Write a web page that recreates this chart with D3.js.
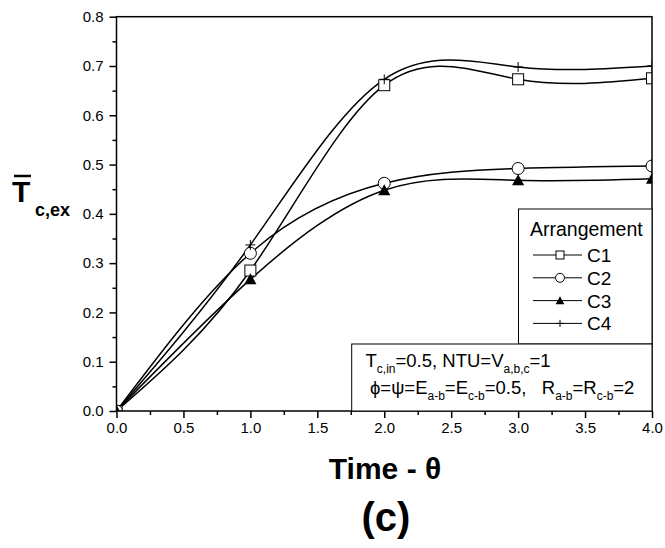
<!DOCTYPE html>
<html>
<head>
<meta charset="utf-8">
<script src="https://cdn.jsdelivr.net/npm/d3@7"></script>
<style>
  body { margin: 0; background: #fff; }
  svg { display: block; font-family: "Liberation Sans", Arial, sans-serif; }
</style>
</head>
<body>
<div id="container"></div>
<script>
let w = 665;
let h = 548;

// data
let times = [0, 1, 2, 3, 4];
let c1 = [0, 0.285, 0.661, 0.673, 0.675];
let c2 = [0, 0.320, 0.462, 0.492, 0.497];
let c3 = [0, 0.267, 0.448, 0.468, 0.471];
let c4 = [0, 0.337, 0.673, 0.698, 0.700];
let seriesNames = ['C1', 'C2', 'C3', 'C4'];
let seriesSymbols = ['square', 'circle', 'triangle', 'plus'];
let xTicks = [0, 0.5, 1, 1.5, 2, 2.5, 3, 3.5, 4];
let yTicks = [0, 0.1, 0.2, 0.3, 0.4, 0.5, 0.6, 0.7, 0.8];

let plot = { left: 116.5, right: 652, top: 16.7, bottom: 411 };

let svg = d3.select('#container')
  .append('svg')
    .attr('width', w)
    .attr('height', h);

let x = d3.scaleLinear().domain([0, 4]).range([plot.left, plot.right]);
let y = d3.scaleLinear().domain([0, 0.8]).range([plot.bottom, plot.top]);

// clip for curves + markers
svg.append('clipPath').attr('id', 'clip')
  .append('rect')
    .attr('x', plot.left).attr('y', plot.top)
    .attr('width', plot.right - plot.left)
    .attr('height', plot.bottom - plot.top);

let allSeries = [c1, c2, c3, c4].map(function(vals, i) {
  return {
    name: seriesNames[i],
    symbol: seriesSymbols[i],
    points: vals.map(function(v, j) { return { t: times[j], v: v }; })
  };
});

let line = d3.line()
  .x(function(d) { return x(d.t); })
  .y(function(d) { return y(d.v); })
  .curve(d3.curveNatural);

let g = svg.append('g').attr('clip-path', 'url(#clip)');

g.selectAll('.curve').data(allSeries)
  .enter()
  .append('path')
    .attr('class', 'curve')
    .attr('d', function(d) { return line(d.points); })
    .attr('fill', 'none')
    .attr('stroke', '#000')
    .attr('stroke-width', 1.5);

//draw one marker
function drawSymbol(sel, type, size) {
  if (type == 'square') {
    sel.append('rect')
      .attr('x', -size / 2).attr('y', -size / 2)
      .attr('width', size).attr('height', size)
      .attr('fill', '#fff').attr('stroke', '#000').attr('stroke-width', 1);
  } else if (type == 'circle') {
    sel.append('circle')
      .attr('r', size / 2 + 0.5)
      .attr('fill', '#fff').attr('stroke', '#000').attr('stroke-width', 1);
  } else if (type == 'triangle') {
    let s = size;
    sel.append('path')
      .attr('d', 'M0,' + (-s * 0.55) + 'L' + (s * 0.55) + ',' + (s * 0.45) + 'L' + (-s * 0.55) + ',' + (s * 0.45) + 'Z')
      .attr('fill', '#000');
  } else if (type == 'plus') {
    let s = size * 0.45;
    sel.append('path')
      .attr('d', 'M' + (-s) + ',0H' + s + 'M0,' + (-s) + 'V' + s)
      .attr('stroke', '#000').attr('stroke-width', 1);
  }
}

allSeries.forEach(function(s) {
  s.points.forEach(function(p) {
    let m = g.append('g').attr('transform', 'translate(' + x(p.t) + ',' + y(p.v) + ')');
    drawSymbol(m, s.symbol, 11);
  });
});

// axes
let xAxis = svg.append('g')
  .attr('transform', 'translate(0,' + plot.bottom + ')')
  .call(d3.axisBottom(x).tickValues(xTicks).tickSize(7).tickPadding(4).tickFormat(d3.format('.1f')));
xAxis.select('.domain').remove();
xAxis.selectAll('text').attr('font-size', 15).attr('fill', '#000').attr('font-family', null);

svg.append('g')
  .attr('transform', 'translate(0,' + plot.bottom + ')')
  .call(d3.axisBottom(x).tickValues(d3.range(0.25, 4, 0.5)).tickSize(4).tickFormat(''))
  .select('.domain').remove();

let yAxis = svg.append('g')
  .attr('transform', 'translate(' + plot.left + ',0)')
  .call(d3.axisLeft(y).tickValues(yTicks).tickSize(7).tickPadding(6).tickFormat(d3.format('.1f')));
yAxis.select('.domain').remove();
yAxis.selectAll('text').attr('font-size', 15).attr('fill', '#000').attr('font-family', null);

svg.append('g')
  .attr('transform', 'translate(' + plot.left + ',0)')
  .call(d3.axisLeft(y).tickValues(d3.range(0.05, 0.8, 0.1)).tickSize(4).tickFormat(''))
  .select('.domain').remove();

svg.selectAll('.tick line').attr('stroke', '#000').attr('stroke-width', 1.5);

// frame
svg.append('rect')
  .attr('x', plot.left).attr('y', plot.top)
  .attr('width', plot.right - plot.left)
  .attr('height', plot.bottom - plot.top)
  .attr('fill', 'none').attr('stroke', '#000').attr('stroke-width', 1.5);

// legend
let lg = { left: 518.5, top: 209, right: plot.right, bottom: 344 };
svg.append('rect')
  .attr('x', lg.left).attr('y', lg.top)
  .attr('width', lg.right - lg.left).attr('height', lg.bottom - lg.top)
  .attr('fill', '#fff').attr('stroke', '#000').attr('stroke-width', 1);

svg.append('text')
  .attr('x', 530).attr('y', 236)
  .attr('font-size', 19.5)
  .text('Arrangement');

allSeries.forEach(function(s, i) {
  let cy = 255 + i * 22.8;
  svg.append('line')
    .attr('x1', 533).attr('x2', 582).attr('y1', cy).attr('y2', cy)
    .attr('stroke', '#000').attr('stroke-width', 1);
  let m = svg.append('g').attr('transform', 'translate(560,' + cy + ')');
  drawSymbol(m, s.symbol, 8);
  svg.append('text')
    .attr('x', 587).attr('y', cy + 7)
    .attr('font-size', 19)
    .text(s.name);
});

// parameter box
let pb = { left: 351.7, top: 344, right: plot.right, bottom: plot.bottom };
svg.append('rect')
  .attr('x', pb.left).attr('y', pb.top)
  .attr('width', pb.right - pb.left).attr('height', pb.bottom - pb.top)
  .attr('fill', '#fff').attr('stroke', '#000').attr('stroke-width', 1);

function richText(xx, yy, parts) {
  let t = svg.append('text').attr('x', xx).attr('y', yy).attr('font-size', 18.5);
  parts.forEach(function(p) {
    if (p[1]) {
      t.append('tspan').attr('font-size', 12).attr('dy', 6).text(p[0]);
    } else {
      t.append('tspan').attr('dy', p[2] ? -6 : 0).text(p[0]);
    }
  });
  return t;
}
// [text, isSub, comesAfterSub]
richText(365.5, 367, [['T'], ['c,in', 1], ['=0.5, NTU=V', 0, 1], ['a,b,c', 1], ['=1', 0, 1]]);
richText(370, 394, [['\u03D5=\u03C8=E'], ['a-b', 1], ['=E', 0, 1], ['c-b', 1], ['=0.5,\u00A0\u00A0\u00A0R', 0, 1], ['a-b', 1], ['=R', 0, 1], ['c-b', 1], ['=2', 0, 1]]);

// axis titles
svg.append('text')
  .attr('x', 385).attr('y', 479)
  .attr('text-anchor', 'middle')
  .attr('font-size', 30).attr('font-weight', 'bold')
  .text('Time - \u03B8');

svg.append('text')
  .attr('x', 386).attr('y', 531)
  .attr('text-anchor', 'middle')
  .attr('font-size', 40).attr('font-weight', 'bold')
  .text('(c)');

svg.append('text')
  .attr('x', 12).attr('y', 202)
  .attr('font-size', 30).attr('font-weight', 'bold')
  .text('T');
svg.append('line')
  .attr('x1', 14).attr('x2', 31).attr('y1', 176).attr('y2', 176)
  .attr('stroke', '#000').attr('stroke-width', 2.5);
svg.append('text')
  .attr('x', 35).attr('y', 216)
  .attr('font-size', 18).attr('font-weight', 'bold')
  .text('c,ex');
</script>
</body>
</html>
